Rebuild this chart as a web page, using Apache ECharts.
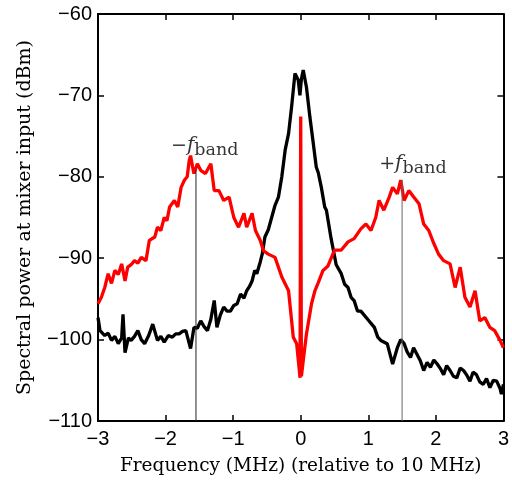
<!DOCTYPE html>
<html>
<head>
<meta charset="utf-8">
<script src="https://cdn.jsdelivr.net/npm/echarts@6/dist/echarts.min.js"></script>
<style>html,body{margin:0;padding:0;background:#fff}#c{width:512px;height:483px}</style>
</head>
<body>
<div id="c"></div>
<script>
const xTicks = [-3, -2, -1, 0, 1, 2, 3];
const yTicks = [-110, -100, -90, -80, -70, -60];

const redSeries = [
[-3.0,-95.6],[-2.95,-94.8],[-2.9,-93.6],[-2.85,-91.9],[-2.8,-93.1],[-2.75,-91.5],[-2.7,-92.0],[-2.65,-90.7],[-2.6,-92.8],[-2.56,-91.1],[-2.51,-90.8],[-2.46,-90.3],[-2.41,-90.6],[-2.36,-89.9],[-2.29,-90.3],[-2.24,-87.8],[-2.16,-87.4],[-2.12,-86.2],[-2.07,-86.6],[-2.02,-85.0],[-1.98,-85.4],[-1.94,-83.7],[-1.87,-82.9],[-1.82,-83.7],[-1.77,-81.3],[-1.72,-80.4],[-1.68,-80.0],[-1.65,-78.0],[-1.63,-77.4],[-1.6,-78.8],[-1.58,-79.6],[-1.53,-78.4],[-1.48,-79.2],[-1.41,-79.6],[-1.33,-78.4],[-1.28,-81.7],[-1.21,-81.7],[-1.14,-82.9],[-1.06,-82.5],[-0.99,-85.0],[-0.92,-86.2],[-0.84,-84.5],[-0.8,-86.2],[-0.72,-84.5],[-0.67,-86.6],[-0.6,-87.8],[-0.55,-89.1],[-0.48,-89.5],[-0.38,-89.9],[-0.28,-92.3],[-0.18,-94.0],[-0.11,-99.7],[-0.06,-100.5],[-0.01,-104.7],[0.0,-72.6],[0.01,-104.5],[0.037,-102.6],[0.085,-99.3],[0.16,-95.6],[0.21,-94.0],[0.26,-93.0],[0.33,-91.5],[0.4,-91.0],[0.5,-89.0],[0.6,-89.0],[0.7,-88.0],[0.79,-87.6],[0.89,-86.4],[0.965,-85.8],[1.04,-86.6],[1.11,-85.0],[1.16,-82.9],[1.23,-84.1],[1.31,-82.5],[1.36,-81.3],[1.43,-82.1],[1.48,-80.4],[1.53,-82.9],[1.6,-81.7],[1.675,-82.5],[1.75,-83.3],[1.82,-85.8],[1.895,-86.6],[1.97,-88.2],[2.04,-89.5],[2.115,-90.3],[2.21,-90.7],[2.285,-93.6],[2.36,-91.1],[2.43,-94.8],[2.505,-96.0],[2.58,-94.0],[2.65,-97.7],[2.725,-97.3],[2.8,-98.5],[2.87,-98.9],[2.95,-100.1],[3.0,-101.0]
];

const blackSeries = [
[-3.0,-97.3],[-2.97,-98.9],[-2.9,-99.5],[-2.85,-99.2],[-2.8,-100.1],[-2.75,-99.6],[-2.7,-100.5],[-2.65,-99.8],[-2.63,-96.9],[-2.6,-101.6],[-2.55,-99.8],[-2.51,-100.1],[-2.46,-99.6],[-2.41,-98.9],[-2.36,-100.0],[-2.31,-100.5],[-2.25,-99.5],[-2.19,-98.1],[-2.12,-100.1],[-2.07,-99.6],[-2.02,-100.3],[-1.96,-99.5],[-1.9,-99.7],[-1.85,-99.3],[-1.8,-99.3],[-1.75,-99.0],[-1.7,-98.9],[-1.63,-101.1],[-1.58,-98.5],[-1.53,-98.6],[-1.48,-97.7],[-1.43,-98.4],[-1.38,-98.9],[-1.33,-97.5],[-1.28,-95.2],[-1.24,-98.5],[-1.19,-97.0],[-1.14,-96.0],[-1.09,-96.5],[-1.04,-96.5],[-0.99,-95.8],[-0.94,-95.6],[-0.89,-94.4],[-0.84,-94.9],[-0.8,-94.0],[-0.76,-93.5],[-0.72,-92.8],[-0.68,-91.5],[-0.65,-91.9],[-0.6,-90.5],[-0.57,-89.5],[-0.53,-87.4],[-0.48,-86.5],[-0.43,-85.0],[-0.38,-83.5],[-0.33,-82.5],[-0.28,-80.0],[-0.23,-76.7],[-0.18,-74.7],[-0.135,-71.4],[-0.085,-67.3],[-0.037,-68.1],[-0.012,-70.0],[0.01,-68.0],[0.037,-66.9],[0.085,-69.0],[0.135,-72.6],[0.18,-75.5],[0.23,-78.8],[0.26,-79.5],[0.305,-81.3],[0.355,-83.7],[0.38,-84.1],[0.45,-87.6],[0.525,-90.8],[0.6,-91.9],[0.65,-93.2],[0.7,-93.6],[0.745,-94.8],[0.79,-95.2],[0.84,-96.5],[0.89,-96.5],[0.99,-97.5],[1.09,-98.5],[1.14,-99.7],[1.185,-100.1],[1.28,-100.5],[1.36,-103.0],[1.43,-101.0],[1.48,-100.0],[1.53,-100.5],[1.575,-101.5],[1.625,-102.2],[1.67,-101.0],[1.72,-101.8],[1.77,-102.6],[1.82,-103.8],[1.87,-102.8],[1.92,-103.4],[1.97,-102.5],[2.02,-103.0],[2.07,-103.6],[2.115,-104.3],[2.16,-103.2],[2.21,-103.8],[2.26,-104.5],[2.31,-104.7],[2.36,-103.5],[2.41,-103.8],[2.46,-104.4],[2.505,-105.1],[2.55,-104.0],[2.6,-104.3],[2.65,-105.2],[2.7,-105.5],[2.75,-104.8],[2.8,-105.9],[2.85,-105.0],[2.9,-105.1],[2.95,-106.0],[2.97,-106.7],[3.0,-105.5]
];

// band markers: frequency and the curve level where the marker line stops
const bandFreqs = [-1.55, 1.5];
const bandTops = [-79.2, -80.4];
const bandSigns = ['−', '+'];
// annotation anchors (frequency, level)
const labelAnchors = [[-1.42, -76.2], [1.66, -78.4]];

const fmt = v => String(v).replace('-', '−');
const serif = 'DejaVu Serif';

const chart = echarts.init(document.getElementById('c'), null, {renderer: 'canvas'});

const axisCommon = {
  type: 'value',
  axisLine: {show: true, onZero: false, lineStyle: {color: '#000', width: 2}},
  axisTick: {show: true, inside: true, length: 6, lineStyle: {color: '#000', width: 1.5}},
  splitLine: {show: false}
};

const series = [
  {type: 'line', data: blackSeries, showSymbol: false, symbol: 'none',
   lineStyle: {color: '#000', width: 3.3}, z: 2, animation: false},
  {type: 'line', data: redSeries, showSymbol: false, symbol: 'none',
   lineStyle: {color: '#ff0000', width: 3.3}, z: 3, animation: false}
];

bandFreqs.forEach((f, i) => {
  series.push({type: 'line', data: [[f, -110], [f, bandTops[i]]], showSymbol: false, symbol: 'none',
    lineStyle: {color: i === 0 ? '#222' : '#666', width: 1}, z: 4, animation: false});
  series.push({type: 'scatter', data: [labelAnchors[i]], symbolSize: 0, z: 5, animation: false,
    label: {show: true, position: 'inside',
      formatter: '{s|' + bandSigns[i] + '}{f|f}{b|band}',
      rich: {
        s: {fontFamily: serif, fontSize: 19, color: '#000'},
        f: {fontFamily: serif, fontSize: 20, fontStyle: 'italic', color: '#000'},
        b: {fontFamily: serif, fontSize: 17.5, color: '#000', padding: [9, 0, 0, 0]}
      }}});
});

chart.setOption({
  animation: false,
  grid: {left: 98, right: 5, top: 14, bottom: 62, containLabel: false},
  xAxis: [
    Object.assign({}, axisCommon, {min: xTicks[0], max: xTicks[xTicks.length - 1], interval: 1, position: 'bottom',
      name: 'Frequency (MHz) (relative to 10 MHz)', nameLocation: 'middle', nameGap: 36,
      nameTextStyle: {fontFamily: serif, fontSize: 18.5, color: '#000'},
      axisLabel: {formatter: fmt, fontFamily: 'Liberation Sans', fontSize: 20, color: '#000', margin: 8}}),
    Object.assign({}, axisCommon, {min: xTicks[0], max: xTicks[xTicks.length - 1], interval: 1, position: 'top',
      axisLabel: {show: false}})
  ],
  yAxis: [
    Object.assign({}, axisCommon, {min: yTicks[0], max: yTicks[yTicks.length - 1], interval: 10, position: 'left',
      name: 'Spectral power at mixer input (dBm)', nameLocation: 'middle', nameGap: 63, nameRotate: 90,
      nameTextStyle: {fontFamily: serif, fontSize: 19, color: '#000'},
      axisLabel: {formatter: fmt, fontFamily: 'Liberation Sans', fontSize: 20, color: '#000', margin: 6}}),
    Object.assign({}, axisCommon, {min: yTicks[0], max: yTicks[yTicks.length - 1], interval: 10, position: 'right',
      axisLabel: {show: false}})
  ],
  series: series
});
</script>
</body>
</html>
